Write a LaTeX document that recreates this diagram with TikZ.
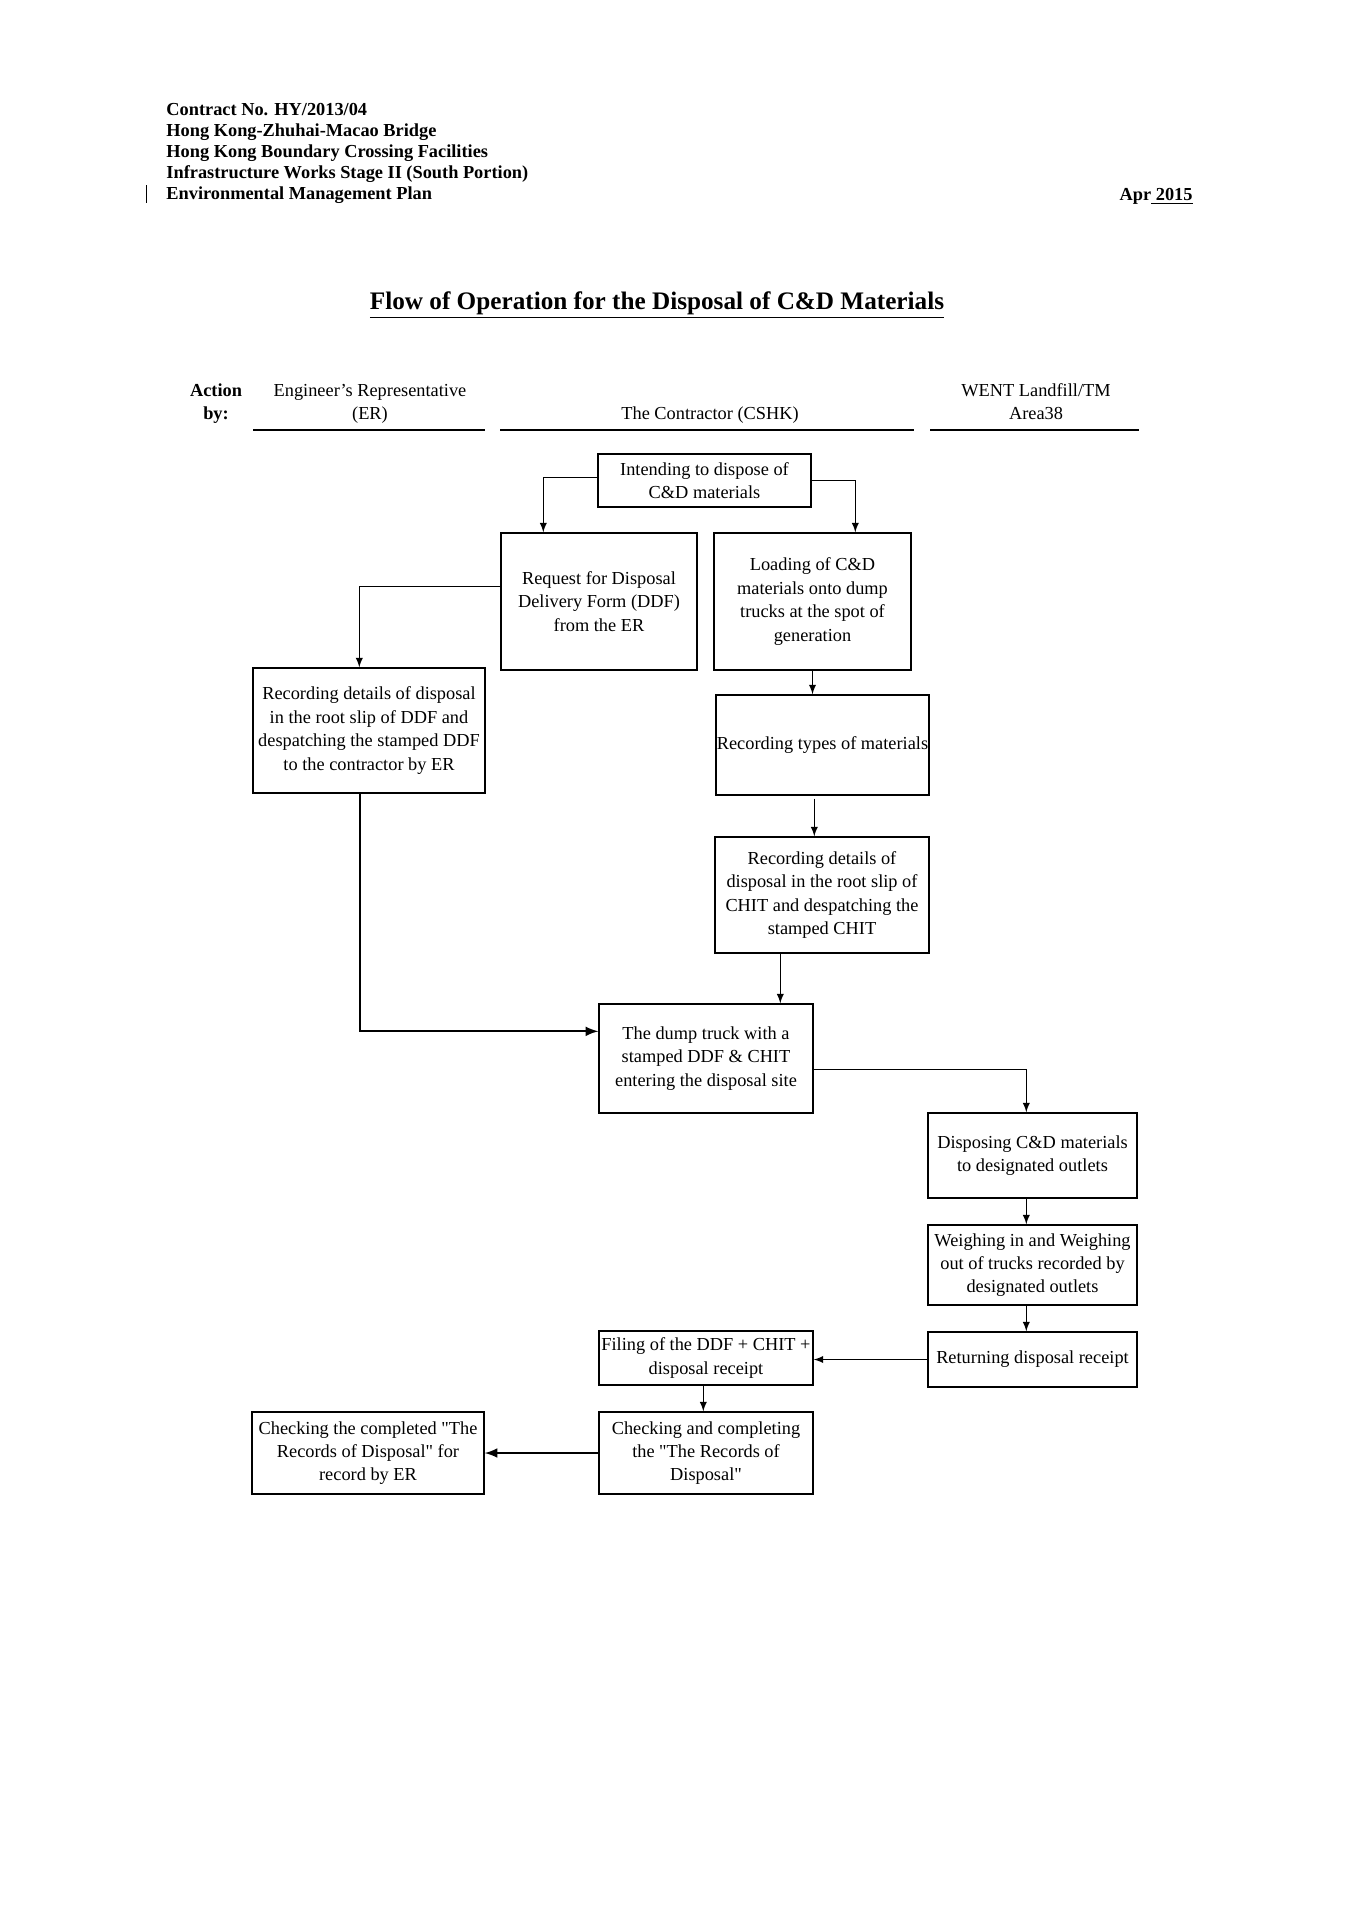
\documentclass[tikz,border=0pt]{standalone}
\usepackage{fontspec}
\setmainfont{Liberation Serif}
\usetikzlibrary{calc}
\newcommand\pxu{0.4363pt}
\newcommand\sq{\textquotedbl}

\begin{document}
\begin{tikzpicture}[x=0.4363pt,y=-0.4363pt,>=latex,
		box/.style 2 args={draw,line width=0.6pt,inner sep=0pt,align=center,
			minimum width=#1*\pxu,minimum height=#2*\pxu,font=\fontsize{8}{10.2}\selectfont},
		hdr/.style={anchor=base west,inner sep=0pt,font=\fontsize{8}{9}\selectfont\bfseries},
		lanehead/.style={anchor=base,inner sep=0pt,font=\fontsize{8}{10}\selectfont},
		lane/.style={line width=0.7pt},
		arr/.style={->,line width=0.45pt},
		thickarr/.style={->,line width=0.9pt}]
		\useasboundingbox (0,0) rectangle (1364,1929);
		
		% page header
		\foreach \t [count=\i] in {Contract No. HY/2013/04,Hong Kong-Zhuhai-Macao Bridge,Hong Kong Boundary Crossing Facilities,Infrastructure Works Stage II (South Portion),Environmental Management Plan}
			\node[hdr] (hdr\i) at (166,{95+20.8*\i}) {\t};
		\draw[line width=0.4pt] (146,185) -- (146,203);
		\node[hdr,anchor=base east] (date) at (1193,200) {Apr\underline{\ 2015}};
		\node[anchor=base,inner sep=0pt,font=\fontsize{11}{13}\selectfont\bfseries] (title) at (657,309)
			{\underline{Flow of Operation for the Disposal of C\&D Materials}};
		
		% lanes
		\node[hdr,anchor=base] (action) at (216,396) {Action};
		\node[hdr,anchor=base] (by) at (216,419) {by:};
		\node[lanehead] (er1) at (370,396) {Engineer's Representative};
		\node[lanehead] (er2) at (370,419) {(ER)};
		\node[lanehead] (cshk) at (710,419) {The Contractor (CSHK)};
		\node[lanehead] (went1) at (1036,396) {WENT Landfill/TM};
		\node[lanehead] (went2) at (1036,419) {Area38};
		\draw[lane] (253,430) -- (485,430);
		\draw[lane] (500,430) -- (914,430);
		\draw[lane] (930,430) -- (1139,430);
		
		% steps
		\node[box={213}{53}] (intend) at (704.5,480.5) {Intending to dispose of\\C\&D materials};
		\node[box={196}{137}] (request) at (599,601.5) {Request for Disposal\\Delivery Form (DDF)\\from the ER};
		\node[box={197}{137}] (loading) at (812.5,601.5) {Loading of C\&D\\materials onto dump\\trucks at the spot of\\generation};
		\node[box={232}{125}] (recER) at (369,730.5) {Recording details of disposal\\in the root slip of DDF and\\despatching the stamped DDF\\to the contractor by ER};
		\node[box={213}{100}] (types) at (822.5,745) {Recording types of materials};
		\node[box={214}{116}] (chit) at (822,895) {Recording details of\\disposal in the root slip of\\CHIT and despatching the\\stamped CHIT};
		\node[box={214}{109}] (dump) at (706,1058.5) {The dump truck with a\\stamped DDF \& CHIT\\entering the disposal site};
		\node[box={209}{85}] (disposing) at (1032.5,1155.5) {Disposing C\&D materials\\to designated outlets};
		\node[box={209}{80}] (weighing) at (1032.5,1265) {Weighing in and Weighing\\out of trucks recorded by\\designated outlets};
		\node[box={209}{55}] (returning) at (1032.5,1359.5) {Returning disposal receipt};
		\node[box={214}{54}] (filing) at (706,1358) {Filing of the DDF + CHIT +\\disposal receipt};
		\node[box={214}{82}] (checking) at (706,1453) {Checking and completing\\the \sq The Records of\\Disposal\sq};
		\node[box={232}{82}] (checkER) at (368,1453) {Checking the completed \sq The\\Records of Disposal\sq{} for\\record by ER};
		
		% flow
		\draw[arr] ($(intend.north west)+(0,24)$) -| ($(request.north west)+(43,0)$);
		\draw[arr] ($(intend.north east)+(0,27)$) -| ($(loading.north west)+(142,0)$);
		\draw[arr] ($(request.north west)+(0,54)$) -| ($(recER.north west)+(107,0)$);
		\draw[arr] (loading.south) -- (loading.south |- types.north);
		\draw[arr] ($(types.south west)+(99,3)$) -- ($(chit.north west)+(100,0)$);
		\draw[arr] ($(chit.south west)+(66,0)$) -- ($(dump.north west)+(182,0)$);
		\draw[thickarr] ($(recER.south west)+(108,0)$) |- ($(dump.north west)+(0,28)$);
		\draw[arr] ($(dump.north east)+(0,66)$) -| ($(disposing.north west)+(99,0)$);
		\draw[arr] ($(disposing.south west)+(99,0)$) -- ($(weighing.north west)+(99,0)$);
		\draw[arr] ($(weighing.south west)+(99,0)$) -- ($(returning.north west)+(99,0)$);
		\draw[arr] (returning.west) -- (returning.west -| filing.east);
		\draw[arr] ($(filing.south west)+(105,0)$) -- ($(checking.north west)+(105,0)$);
		\draw[thickarr] (checking.west) -- (checkER.east);
	\end{tikzpicture}
\end{document}
